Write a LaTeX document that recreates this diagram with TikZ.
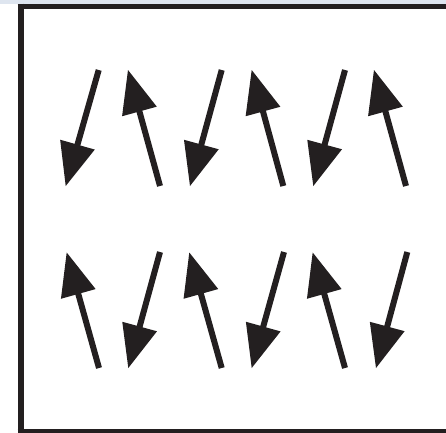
\documentclass[tikz,border=0pt]{standalone}
\usetikzlibrary{calc}
\definecolor{ink}{RGB}{35,31,32}
\definecolor{band}{RGB}{222,229,239}
\newcommand\spinarrow[2]{%
  \coordinate (base) at ($(#2)!43pt!(#1)$);
  \coordinate (shaftend) at ($(#2)!38pt!(#1)$);
  \draw[shaft] (#1) -- (shaftend);
  \fill[headfill] (#2) -- ($(base)!18pt!90:(#2)$) -- ($(base)!18pt!-90:(#2)$) -- cycle;
}
\begin{document}
\begin{tikzpicture}[x=1pt,y=-1pt,
  shaft/.style={draw=ink,line width=6pt},
  headfill/.style={fill=ink},
  frameline/.style={draw=ink,line width=5.2pt}]
\useasboundingbox (0,0) rectangle (446,432);
\clip (0,0) rectangle (446,432);
\fill[band] (0,0) rectangle (446,3.5);
\draw[frameline,line width=6pt] (20.5,3.5) -- (20.5,440);
\draw[frameline] (17.5,6.1) -- (450,6.1);
\draw[frameline] (17.5,431.6) -- (450,431.6);
% row 1
\coordinate (a1t) at (98.7,70);  \coordinate (a1h) at (65.7,186);
\coordinate (a2t) at (160,186);  \coordinate (a2h) at (128,70);
\coordinate (a3t) at (221.7,70); \coordinate (a3h) at (190,186);
\coordinate (a4t) at (283.3,186);\coordinate (a4h) at (251.7,70);
\coordinate (a5t) at (345,70);   \coordinate (a5h) at (313.3,186);
\coordinate (a6t) at (406,186);  \coordinate (a6h) at (374,70);
% row 2
\coordinate (b1t) at (99,368);   \coordinate (b1h) at (66.7,252.5);
\coordinate (b2t) at (160,252);  \coordinate (b2h) at (128.3,368);
\coordinate (b3t) at (221.7,368);\coordinate (b3h) at (189.3,252.5);
\coordinate (b4t) at (284,252);  \coordinate (b4h) at (251.7,368);
\coordinate (b5t) at (345,368);  \coordinate (b5h) at (312.7,252.5);
\coordinate (b6t) at (407.3,252);\coordinate (b6h) at (376,368);
\spinarrow{a1t}{a1h}
\spinarrow{a2t}{a2h}
\spinarrow{a3t}{a3h}
\spinarrow{a4t}{a4h}
\spinarrow{a5t}{a5h}
\spinarrow{a6t}{a6h}
\spinarrow{b1t}{b1h}
\spinarrow{b2t}{b2h}
\spinarrow{b3t}{b3h}
\spinarrow{b4t}{b4h}
\spinarrow{b5t}{b5h}
\spinarrow{b6t}{b6h}
\end{tikzpicture}
\end{document}
